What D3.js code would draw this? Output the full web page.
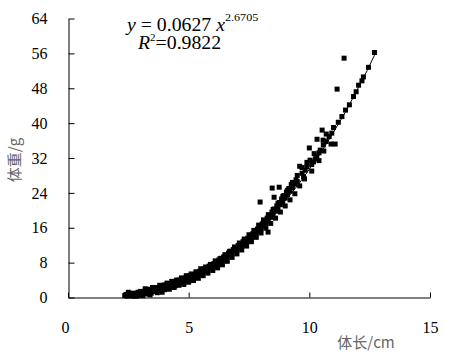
<!DOCTYPE html>
<html>
<head>
<meta charset="utf-8">
<script src="https://cdn.jsdelivr.net/npm/d3@7"></script>
<style>
  body { margin: 0; background: #fff; }
  svg text { font-family: "Liberation Serif", "Times New Roman", serif; }
  svg text.cjk { font-family: "Noto Sans CJK SC", sans-serif; }
</style>
</head>
<body>
<svg id="chart" width="451" height="363"></svg>
<script>
// body length (cm) and body weight (g)
const lengths = [
  2.35, 2.4, 2.45, 2.5, 2.55, 2.6, 2.6, 2.65, 2.7, 2.75, 2.8, 2.85, 2.9, 2.95, 3.0, 3.0,
  3.05, 3.1, 3.15, 3.2, 3.25, 3.3, 3.3, 3.35, 3.4, 3.45, 3.5, 3.55, 3.6, 3.65, 3.7, 3.75,
  3.8, 3.85, 3.9, 3.95, 4.0, 4.05, 4.1, 4.15, 4.2, 4.25, 4.3, 4.35, 4.4, 4.45, 4.5, 4.55,
  4.6, 4.65, 4.7, 4.75, 4.8, 4.85, 4.9, 4.95, 5.0, 5.05, 5.1, 5.15,
  5.2, 5.25, 5.3, 5.35, 5.4, 5.45, 5.5, 5.55, 5.6, 5.65, 5.7, 5.75, 5.8, 5.85, 5.9, 5.95,
  6.0, 6.05, 6.1, 6.15, 6.2, 6.25, 6.3, 6.35, 6.4, 6.45, 6.5, 6.55, 6.6, 6.65, 6.7, 6.75,
  6.8, 6.85, 6.9, 6.95, 7.0, 7.05, 7.1, 7.15, 7.2, 7.25, 7.3, 7.35, 7.4, 7.45, 7.5,
  7.55, 7.6, 7.65, 7.7, 7.75, 7.8, 7.85, 7.9, 7.95, 7.96, 8.0, 8.05, 8.1, 8.15, 8.2, 8.25,
  8.29, 8.3, 8.35, 8.4, 8.45, 8.46, 8.5, 8.54, 8.55, 8.6, 8.65, 8.7, 8.75, 8.75, 8.8, 8.85,
  8.9, 8.95, 9.0, 9.05, 9.1, 9.15, 9.2, 9.25, 9.3, 9.4, 9.45, 9.5,
  9.6, 9.7, 9.76, 9.83, 9.9, 10.0, 10.03, 10.1, 10.17, 10.25, 10.31, 10.32, 10.4, 10.45,
  10.53, 10.57, 10.58, 10.7, 10.82, 10.93, 11.07, 11.15, 11.35, 11.44, 11.66, 11.83, 11.94,
  12.04, 12.18, 12.24, 12.45, 12.7
];
const weights = [
  0.45, 0.7, 0.3, 0.6, 0.9, 0.5, 0.8, 0.4, 1.0, 0.6, 0.9, 0.3, 1.2, 0.7, 1.0, 1.4,
  0.5, 1.2, 0.9, 1.6, 1.1, 0.8, 1.5, 1.9, 1.3, 1.0, 1.7, 2.1, 1.4, 1.9, 2.3, 1.6,
  2.0, 2.6, 1.8, 2.4, 2.9, 2.2, 2.6, 3.2, 2.5, 3.0, 2.8, 3.5, 3.1, 2.7, 3.6, 3.2,
  4.0, 3.4, 3.8, 4.3, 3.6, 4.1, 4.6, 3.9, 4.4, 5.0, 4.2, 4.8,
  5.3, 4.6, 5.0, 5.6, 5.2, 6.0, 5.5, 6.3, 5.8, 6.6, 6.1, 6.9, 6.4, 7.2, 6.7, 7.5,
  7.0, 7.8, 7.4, 8.2, 7.6, 8.6, 8.0, 9.0, 8.5, 9.3, 8.9, 9.8, 9.3, 10.2, 9.8, 10.6,
  10.1, 11.0, 10.6, 11.4, 10.9, 11.9, 11.4, 12.3, 11.8, 12.8, 12.3, 13.2, 12.7, 13.6, 13.2,
  14.1, 13.6, 14.6, 14.1, 15.1, 14.6, 15.7, 15.2, 16.3, 21.9, 15.8, 16.9, 16.4, 17.6, 17.0, 18.2,
  15.0, 17.7, 18.9, 18.4, 19.6, 25.1, 19.1, 23.0, 20.3, 19.8, 21.0, 20.5, 25.3, 21.8, 21.3, 22.6,
  22.0, 23.4, 22.8, 24.2, 23.6, 25.0, 24.4, 25.9, 25.2, 26.0, 27.0, 26.6,
  30.1, 28.5, 27.7, 29.2, 30.0, 34.3, 31.5, 30.5, 31.1, 31.8, 32.3, 36.3, 33.2, 33.8,
  38.4, 36.1, 35.0, 35.8, 36.9, 37.7, 35.2, 47.8, 41.5, 54.9, 44.2, 46.1, 47.2,
  48.7, 49.7, 50.6, 52.8, 56.2
];

// more fish, further from the trend line
const lengths2 = [
  2.5, 2.7, 2.9, 3.1, 3.2, 3.4, 3.5, 3.7, 3.8, 3.9, 4.0, 4.1, 4.2, 4.3, 4.4, 4.5, 4.6, 4.7,
  4.8, 4.9, 5.0, 5.1, 5.2, 5.3, 5.4, 5.5, 5.6, 5.7, 5.8, 5.9, 6.0, 6.1, 6.2, 6.3, 6.4, 6.5,
  6.6, 6.7, 6.8, 6.9, 7.0, 7.1, 7.2, 7.3, 7.4, 7.5, 7.6, 7.7, 7.8, 7.9, 8.0, 8.1, 8.2, 8.3,
  8.4, 8.5, 8.6, 8.7, 8.8, 8.9, 9.0, 9.1, 9.2, 9.3, 9.4, 9.5, 9.6, 9.7, 9.8, 9.9, 10.1, 10.2,
  10.4, 10.6, 10.7, 10.9, 11.0, 11.2, 11.5
];
const weights2 = [
  1.2, 0.3, 0.5, 0.4, 2.0, 0.6, 2.3, 1.1, 2.8, 1.2, 1.8, 3.3, 1.9, 3.7, 2.3, 4.0, 2.8, 4.5,
  3.0, 5.0, 3.5, 5.4, 3.9, 5.9, 4.4, 6.6, 5.0, 7.0, 5.6, 7.6, 6.2, 8.4, 6.8, 8.9, 7.5, 9.8,
  8.3, 10.6, 9.2, 11.6, 10.0, 12.5, 10.9, 13.4, 11.8, 14.4, 12.8, 15.4, 13.8, 16.6, 14.8, 17.8, 15.9, 19.0,
  17.0, 20.2, 18.2, 21.6, 19.6, 23.2, 21.0, 24.6, 22.4, 26.4, 23.8, 28.0, 25.6, 29.8, 27.2, 31.0, 29.0, 33.0,
  31.4, 33.6, 37.5, 35.2, 39.0, 40.2, 43.0
];

// trend line y = 0.0627 x^2.6705, values read at these lengths
const trendX = [2.4, 2.8, 3.2, 3.6, 4.0, 4.5, 5.0, 5.5, 6.0, 6.5, 7.0, 7.5, 8.0, 8.5, 9.0, 9.5, 10.0, 10.5, 11.0, 11.5, 12.0, 12.4, 12.7];
const trendY = [0.65, 0.98, 1.41, 1.93, 2.54, 3.46, 4.61, 5.96, 7.50, 9.27, 11.33, 13.6, 16.2, 19.1, 22.2, 25.6, 29.4, 33.4, 37.9, 42.6, 47.8, 52.1, 55.6];

const xTicks = [0, 5, 10, 15];
const yTicks = [0, 8, 16, 24, 32, 40, 48, 56, 64];

const serif = '"Liberation Serif", "Times New Roman", serif';

const svg = d3.select('#chart');
svg.append('rect').attr('width', 451).attr('height', 363).attr('fill', '#fff');

const x = d3.scaleLinear().domain([0, 15]).range([68, 430]);
const y = d3.scaleLinear().domain([0, 64]).range([297.5, 18.5]);

const xAxis = svg.append('g')
    .attr('transform', 'translate(0,297.5)')
    .call(d3.axisBottom(x).tickValues(xTicks).tickSizeInner(-5).tickSizeOuter(0).tickPadding(24));

const yAxis = svg.append('g')
    .attr('transform', 'translate(68.5,0)')
    .call(d3.axisLeft(y).tickValues(yTicks).tickSizeInner(-6).tickSizeOuter(0).tickPadding(21));

[xAxis, yAxis].forEach(a => {
  a.attr('font-family', serif).attr('font-size', 16);
  a.selectAll('path, line').attr('stroke', '#000').attr('stroke-width', 1);
  a.selectAll('text')
    .attr('fill', '#000')
    .style('font-family', serif)
    .style('font-size', '16px');
});
xAxis.select('.tick text').attr('dx', '-3');

// trend line
const line = d3.line().x(d => x(d[0])).y(d => y(d[1]));
svg.append('path')
  .datum(trendX.map((v, i) => [v, trendY[i]]))
  .attr('fill', 'none')
  .attr('stroke', '#000')
  .attr('stroke-width', 1)
  .attr('d', line);

// points
const pts = lengths.map((v, i) => ({ len: v, wt: weights[i] }))
  .concat(lengths2.map((v, i) => ({ len: v, wt: weights2[i] })));
svg.selectAll('.pt')
  .data(pts)
  .enter().append('rect')
    .attr('class', 'pt')
    .attr('x', d => x(d.len) - 2.5)
    .attr('y', d => y(d.wt) - 2.5)
    .attr('width', 5)
    .attr('height', 5)
    .attr('fill', '#000');

// equation (slightly stretched like the original)
const eq = svg.append('text')
  .attr('transform', 'translate(127,31) scale(1.1,1)')
  .style('font-family', serif)
  .style('font-size', '18px');
eq.append('tspan').style('font-style', 'italic').text('y');
eq.append('tspan').text(' = 0.0627 ');
eq.append('tspan').style('font-style', 'italic').text('x');
eq.append('tspan').attr('dy', -10).style('font-size', '11px').text('2.6705');

const r2 = svg.append('text')
  .attr('transform', 'translate(138,49) scale(1.1,1)')
  .style('font-family', serif)
  .style('font-size', '18px');
r2.append('tspan').style('font-style', 'italic').text('R');
r2.append('tspan').attr('dy', -8).style('font-size', '10px').text('2');
r2.append('tspan').attr('dy', 8).text('=0.9822');

// axis titles
svg.append('text')
  .attr('class', 'cjk')
  .attr('transform', 'translate(20,160) rotate(-90)')
  .attr('text-anchor', 'middle')
  .attr('fill', '#666')
  .style('font-size', '15px')
  .text('体重/g');

svg.append('text')
  .attr('class', 'cjk')
  .attr('x', 366)
  .attr('y', 348)
  .attr('text-anchor', 'middle')
  .attr('fill', '#666')
  .style('font-size', '15px')
  .text('体长/cm');
</script>
</body>
</html>
